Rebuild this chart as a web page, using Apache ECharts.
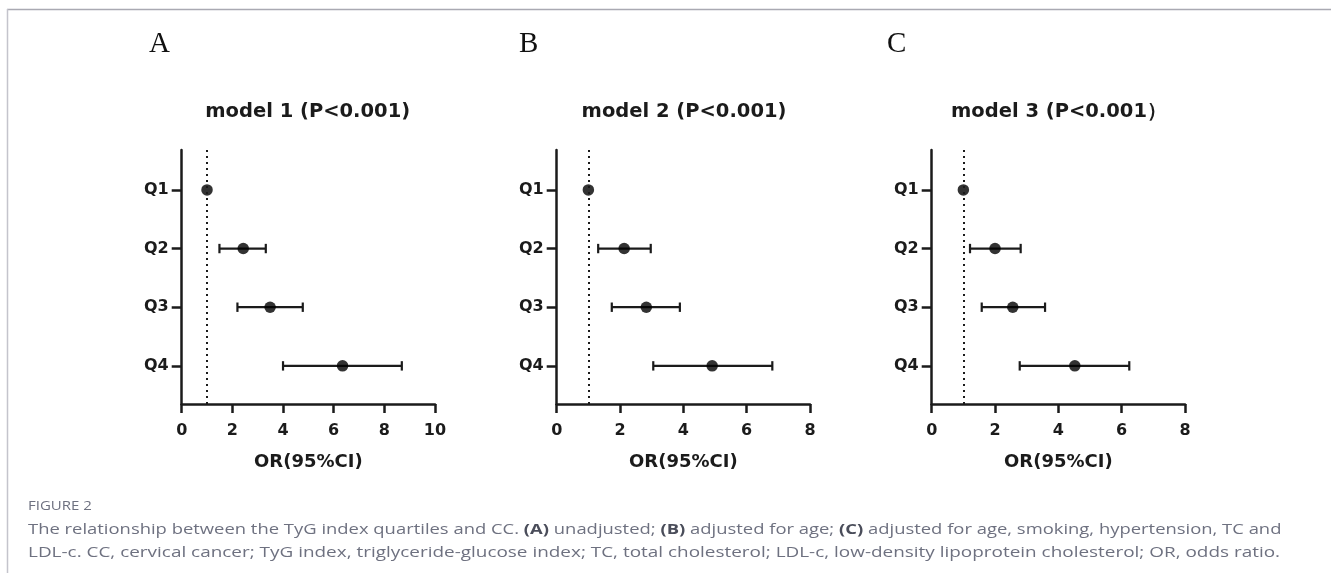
<!DOCTYPE html>
<html>
<head>
<meta charset="utf-8">
<script src="https://cdn.jsdelivr.net/npm/echarts@6/dist/echarts.min.js"></script>
<style>
  html, body { margin: 0; padding: 0; background: #fff; }
  #chart { width: 1331px; height: 573px; }
</style>
</head>
<body>
<div id="chart"></div>
<script>
// data
var quartiles = ['Q1', 'Q2', 'Q3', 'Q4'];
var panelLetters = ['A', 'B', 'C'];
var modelTitles = ['model 1 (P<0.001)', 'model 2 (P<0.001)', 'model 3 (P<0.001）'];
var xMaxes = [10, 8, 8];

var orA   = [1, 2.43, 3.49, 6.35];
var lowA  = [1, 1.49, 2.20, 4.00];
var highA = [1, 3.32, 4.78, 8.69];

var orB   = [1, 2.13, 2.83, 4.91];
var lowB  = [1, 1.31, 1.74, 3.05];
var highB = [1, 2.97, 3.89, 6.81];

var orC   = [1, 2.00, 2.56, 4.52];
var lowC  = [1, 1.21, 1.58, 2.78];
var highC = [1, 2.81, 3.58, 6.24];

var refLine = 1;

var panels = [
  { or: orA, low: lowA, high: highA },
  { or: orB, low: lowB, high: highB },
  { or: orC, low: lowC, high: highC }
];

var ink = '#1b1b1b';
var gridLefts = [181.7, 556.7, 931.7];
var titleCenters = [307.7, 684, 1059];
var letterLefts = [149, 519, 887];

var grids = [], xAxes = [], yAxes = [], series = [], graphics = [];

panels.forEach(function (p, i) {
  grids.push({ left: gridLefts[i], top: 150, width: 253.3, height: 254 });

  xAxes.push({
    type: 'value', gridIndex: i, min: 0, max: xMaxes[i], interval: 2,
    splitLine: { show: false },
    axisLine: { show: true, lineStyle: { color: ink, width: 2.5 } },
    axisTick: { show: true, length: 9, lineStyle: { color: ink, width: 2.5 } },
    axisLabel: { color: ink, fontFamily: 'DejaVu Sans', fontWeight: 'bold', fontSize: 16, margin: 19 },
    name: 'OR(95%CI)', nameLocation: 'middle', nameGap: 49,
    nameTextStyle: { color: ink, fontFamily: 'DejaVu Sans', fontWeight: 'bold', fontSize: 18 }
  });

  yAxes.push({
    type: 'value', gridIndex: i, min: 0.32, max: 4.65, inverse: true,
    splitLine: { show: false },
    axisLine: { show: true, onZero: false, lineStyle: { color: ink, width: 2.5 } },
    axisTick: { show: true, length: 10, customValues: [1, 2, 3, 4], lineStyle: { color: ink, width: 2.5 } },
    axisLabel: {
      customValues: [1, 2, 3, 4], margin: 13,
      color: ink, fontFamily: 'DejaVu Sans', fontWeight: 'bold', fontSize: 16,
      formatter: function (v) { return quartiles[Math.round(v) - 1]; }
    }
  });

  var bars = quartiles.map(function (q, k) { return [p.low[k], p.high[k], k + 1]; });
  var pts = quartiles.map(function (q, k) { return [p.or[k], k + 1]; });

  series.push({
    type: 'custom', xAxisIndex: i, yAxisIndex: i,
    data: bars,
    renderItem: function (params, api) {
      var lo = api.value(0), hi = api.value(1), y = api.value(2);
      if (lo === hi) return;
      var a = api.coord([lo, y]), b = api.coord([hi, y]);
      var cap = 4.7;
      var st = { stroke: ink, lineWidth: 2.2 };
      return {
        type: 'group',
        children: [
          { type: 'line', shape: { x1: a[0], y1: a[1], x2: b[0], y2: b[1] }, style: st },
          { type: 'line', shape: { x1: a[0], y1: a[1] - cap, x2: a[0], y2: a[1] + cap }, style: st },
          { type: 'line', shape: { x1: b[0], y1: b[1] - cap, x2: b[0], y2: b[1] + cap }, style: st }
        ]
      };
    },
    markLine: {
      silent: true, symbol: 'none', label: { show: false },
      lineStyle: { color: ink, width: 2, type: [2, 4] },
      data: [{ xAxis: refLine }]
    },
    z: 2
  });

  series.push({
    type: 'scatter', xAxisIndex: i, yAxisIndex: i,
    data: pts, symbol: 'circle', symbolSize: 11.5,
    itemStyle: { color: '#000' }, z: 3
  });

  graphics.push({
    type: 'text', x: letterLefts[i], y: 59,
    style: { text: panelLetters[i], font: '29px "Liberation Serif"', fill: '#111', textVerticalAlign: 'bottom', verticalAlign: 'bottom' }
  });
  graphics.push({
    type: 'text', x: titleCenters[i], y: 112,
    style: {
      text: modelTitles[i], font: 'bold 19.5px "DejaVu Sans"', fill: ink,
      textAlign: 'center', align: 'center', textVerticalAlign: 'middle', verticalAlign: 'middle'
    }
  });
});

// frame lines of the figure box
graphics.push({ type: 'line', shape: { x1: 7, y1: 9.5, x2: 1331, y2: 9.5 }, style: { stroke: '#a9a9b2', lineWidth: 1.5 } });
graphics.push({ type: 'line', shape: { x1: 7.5, y1: 9, x2: 7.5, y2: 573 }, style: { stroke: '#c4c4cc', lineWidth: 1.5 } });

var capColor = '#6e7180';
var capLines = [
  'The relationship between the TyG index quartiles and CC. {b|(A)} unadjusted; {b|(B)} adjusted for age; {b|(C)} adjusted for age, smoking, hypertension, TC and',
  'LDL-c. CC, cervical cancer; TyG index, triglyceride-glucose index; TC, total cholesterol; LDL-c, low-density lipoprotein cholesterol; OR, odds ratio.'
];
var capScales = [1.27, 1.305];
graphics.push({
  type: 'text', x: 28, y: 506.5, scaleX: 1.2,
  style: { text: 'FIGURE 2', font: '12.5px "Open Sans"', fill: capColor, textVerticalAlign: 'middle', verticalAlign: 'middle' }
});
capLines.forEach(function (line, k) {
  graphics.push({
    type: 'text', x: 28, y: 530 + k * 23, scaleX: capScales[k],
    style: {
      text: line, font: '14.5px "Open Sans"', fill: capColor,
      textVerticalAlign: 'middle', verticalAlign: 'middle',
      rich: { b: { fontWeight: 'bold', fill: '#4a4d5a', fontFamily: 'Open Sans', fontSize: 14.5 } }
    }
  });
});

var chart = echarts.init(document.getElementById('chart'));
chart.setOption({
  animation: false,
  backgroundColor: '#fff',
  grid: grids,
  xAxis: xAxes,
  yAxis: yAxes,
  series: series,
  graphic: graphics
});
</script>
</body>
</html>
